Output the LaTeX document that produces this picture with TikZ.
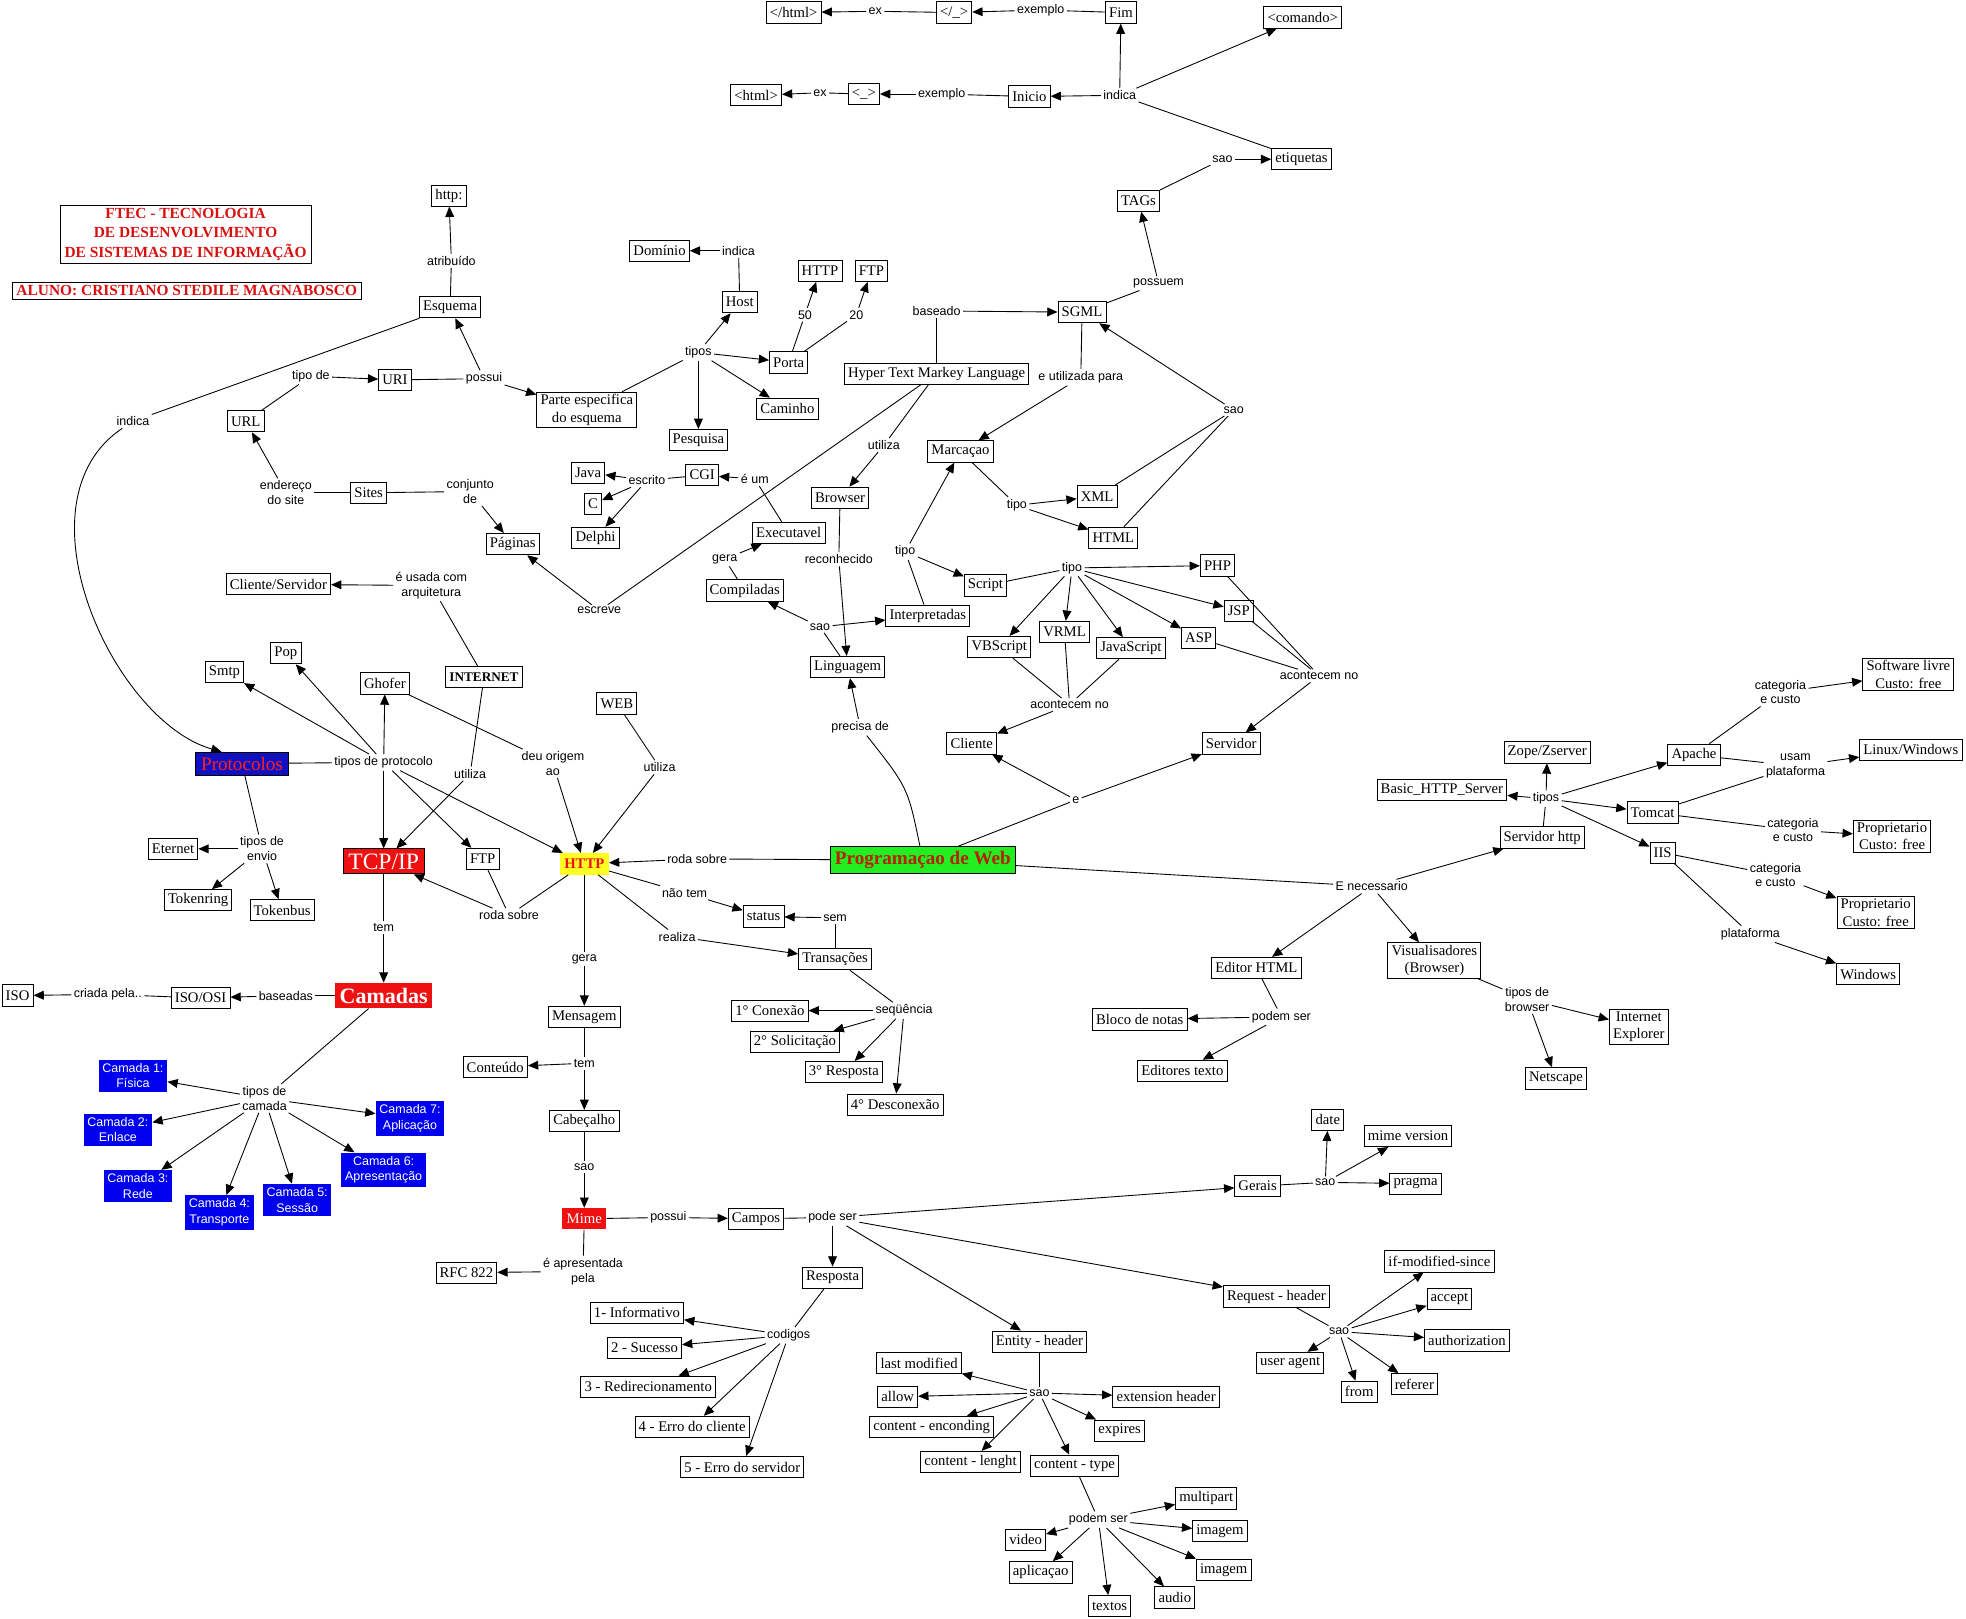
\documentclass[tikz,border=0pt]{standalone}
\usepackage{fontspec}
\setmainfont{Liberation Serif}
\setsansfont{Liberation Sans}
\usetikzlibrary{arrows.meta}
\definecolor{mapRed}{HTML}{EE1111}
\definecolor{mapBlue}{HTML}{0000EE}
\definecolor{protBlue}{HTML}{1010C0}
\definecolor{protText}{HTML}{FF2020}
\definecolor{webGreen}{HTML}{22EE22}
\definecolor{webText}{HTML}{B82000}
\definecolor{httpYellow}{HTML}{FFFF22}
\definecolor{titleRed}{HTML}{D81010}
\tikzset{
  concept/.style={draw, line width=0.6pt, fill=white, align=center, inner xsep=2.5pt, inner ysep=1.5pt, minimum height=14.5pt, font=\fontsize{10}{12}\selectfont},
  lbl/.style={inner sep=1.5pt, align=center, font=\sffamily\fontsize{8.5}{10}\selectfont},
  lnk/.style={line width=0.6pt},
  arr/.style={-{Triangle[length=7pt,width=6pt]}, line width=0.6pt},
  layer/.style={fill=mapBlue, text=white, align=center, inner sep=2.5pt, font=\sffamily\fontsize{8.5}{10.5}\selectfont},
  titlebox/.style={draw, line width=0.6pt, align=center, inner xsep=3pt, inner ysep=2pt, text=titleRed, font=\bfseries\fontsize{10.5}{13.5}\selectfont}
}
\begin{document}
\begin{tikzpicture}[x=0.03cm,y=-0.03cm]
  \useasboundingbox (0,0) rectangle (1568,1291);
  % header
  \node[titlebox] (ftec) at (148,187) {FTEC - TECNOLOGIA\\DE DESENVOLVIMENTO\\DE SISTEMAS DE INFORMAÇÃO};
  \node[titlebox] (aluno) at (149,232) {ALUNO: CRISTIANO STEDILE MAGNABOSCO};
  % HTML / SGML
  \node[concept] (chtml) at (633,10) {</html>};
  \node[concept] (cclose) at (761,10) {</\_>};
  \node[concept] (fim) at (894,10) {Fim};
  \node[concept] (comando) at (1039,14) {<comando>};
  \node[concept] (ohtml) at (603,76) {<html>};
  \node[concept] (copen) at (689,75) {<\_>};
  \node[concept] (inicio) at (821,77) {Inicio};
  \node[concept] (etiq) at (1038,127) {etiquetas};
  \node[concept] (tags) at (908,160) {TAGs};
  \node[concept] (sgml) at (863,249) {SGML};
  \node[concept] (hypertext) at (747,298) {Hyper Text Markey Language};
  \node[concept] (marcacao) at (766,360) {Marcaçao};
  \node[concept] (xml) at (875,396) {XML};
  \node[concept] (htmlb) at (888,429) {HTML};
  % URI
  \node[concept] (httpc) at (358,156) {http:};
  \node[concept] (esquema) at (359,245) {Esquema};
  \node[concept] (uri) at (315,303) {URI};
  \node[concept] (url) at (196,336) {URL};
  \node[concept] (parte) at (468,327) {Parte especifica\\do esquema};
  \node[concept] (sites) at (294,393) {Sites};
  \node[concept] (paginas) at (409,434) {Páginas};
  \node[concept] (cliserv) at (222,466) {Cliente/Servidor};
  \node[concept] (dominio) at (526,200) {Domínio};
  \node[concept] (host) at (590,241) {Host};
  \node[concept] (phttp) at (654,216) {HTTP};
  \node[concept] (pftp) at (695,216) {FTP};
  \node[concept] (porta) at (629,289) {Porta};
  \node[concept] (caminho) at (628,326) {Caminho};
  \node[concept] (pesquisa) at (557,351) {Pesquisa};
  % linguagens
  \node[concept] (java) at (469,377) {Java};
  \node[concept] (cgi) at (560,379) {CGI};
  \node[concept] (clang) at (473,402) {C};
  \node[concept] (delphi) at (475,429) {Delphi};
  \node[concept] (exec) at (629,425) {Executavel};
  \node[concept] (browser) at (670,397) {Browser};
  \node[concept] (compiladas) at (594,471) {Compiladas};
  \node[concept] (script) at (786,467) {Script};
  \node[concept] (php) at (971,451) {PHP};
  \node[concept] (jsp) at (988,487) {JSP};
  \node[concept] (asp) at (956,509) {ASP};
  \node[concept] (vrml) at (849,504) {VRML};
  \node[concept] (jscript) at (902,517) {JavaScript};
  \node[concept] (vbscript) at (797,516) {VBScript};
  \node[concept] (interp) at (740,491) {Interpretadas};
  \node[concept] (linguagem) at (676,532) {Linguagem};
  \node[concept] (cliente) at (775,593) {Cliente};
  \node[concept] (servidor) at (982,593) {Servidor};
  \node[draw, line width=0.6pt, fill=webGreen, text=webText, inner xsep=3pt, minimum height=18pt, font=\bfseries\fontsize{13}{15}\selectfont] (pweb) at (736,686) {Programaçao de Web};
  % protocolos
  \node[concept, font=\bfseries\fontsize{9}{11}\selectfont] (internet) at (386,540) {INTERNET};
  \node[concept] (web) at (492,561) {WEB};
  \node[concept] (smtp) at (179,536) {Smtp};
  \node[concept] (pop) at (228,521) {Pop};
  \node[concept] (ghofer) at (307,545) {Ghofer};
  \node[draw, line width=0.6pt, fill=protBlue, text=protText, inner xsep=4pt, inner ysep=1pt, minimum height=15.5pt, font=\fontsize{13}{15}\selectfont] (prot) at (193,609) {Protocolos};
  \node[draw, line width=0.6pt, fill=mapRed, text=white, inner xsep=3.5pt, inner ysep=1pt, minimum height=17pt, font=\fontsize{16}{18}\selectfont] (tcpip) at (306,687) {TCP/IP};
  \node[concept] (ftp) at (385,685) {FTP};
  \node[fill=httpYellow, text=mapRed, inner xsep=3pt, minimum height=14.5pt, font=\bfseries\fontsize{10}{12}\selectfont] (http) at (466,689) {HTTP};
  \node[concept] (eternet) at (138,677) {Eternet};
  \node[concept] (tokenring) at (158,718) {Tokenring};
  \node[concept] (tokenbus) at (225,726) {Tokenbus};
  \node[concept] (status) at (609,731) {status};
  \node[concept] (transacoes) at (666,765) {Transações};
  \node[fill=mapRed, text=white, inner xsep=3pt, minimum height=17pt, font=\bfseries\fontsize{15}{17}\selectfont] (camadas) at (306,794) {Camadas};
  \node[concept] (isoosi) at (160,796) {ISO/OSI};
  \node[concept] (iso) at (14,794) {ISO};
  \node[concept] (mensagem) at (466,811) {Mensagem};
  \node[concept] (conex) at (614,806) {1° Conexão};
  \node[concept] (solic) at (634,831) {2° Solicitação};
  \node[concept] (resp3) at (673,855) {3° Resposta};
  \node[concept] (descon) at (714,881) {4° Desconexão};
  \node[concept] (conteudo) at (395,851) {Conteúdo};
  \node[concept] (cabecalho) at (466,894) {Cabeçalho};
  \node[layer] (cam1) at (106,858) {Camada 1:\\Física};
  \node[layer] (cam2) at (94,901) {Camada 2:\\Enlace};
  \node[layer] (cam3) at (110,946) {Camada 3:\\Rede};
  \node[layer] (cam4) at (175,967) {Camada 4:\\Transporte};
  \node[layer] (cam5) at (237,957) {Camada 5:\\Sessão};
  \node[layer] (cam6) at (306,933) {Camada 6:\\Apresentação};
  \node[layer] (cam7) at (327,892) {Camada 7:\\Aplicação};
  % mime
  \node[fill=mapRed, text=white, inner xsep=3pt, minimum height=14.5pt, font=\fontsize{10}{12}\selectfont] (mime) at (466,972) {Mime};
  \node[concept] (campos) at (603,972) {Campos};
  \node[concept] (rfc) at (372,1015) {RFC 822};
  \node[concept] (resposta) at (664,1019) {Resposta};
  \node[concept] (cod1) at (508,1047) {1- Informativo};
  \node[concept] (cod2) at (514,1075) {2 - Sucesso};
  \node[concept] (cod3) at (517,1106) {3 - Redirecionamento};
  \node[concept] (cod4) at (552,1138) {4 - Erro do cliente};
  \node[concept] (cod5) at (592,1170) {5 - Erro do servidor};
  \node[concept] (gerais) at (1003,946) {Gerais};
  \node[concept] (date) at (1059,893) {date};
  \node[concept] (mimever) at (1123,906) {mime version};
  \node[concept] (pragma) at (1129,944) {pragma};
  \node[concept] (request) at (1018,1034) {Request - header};
  \node[concept] (ifmod) at (1148,1006) {if-modified-since};
  \node[concept] (accept) at (1156,1036) {accept};
  \node[concept] (authz) at (1170,1069) {authorization};
  \node[concept] (referer) at (1128,1104) {referer};
  \node[concept] (from) at (1084,1110) {from};
  \node[concept] (useragent) at (1029,1087) {user agent};
  \node[concept] (entity) at (829,1070) {Entity - header};
  \node[concept] (lastmod) at (733,1087) {last modified};
  \node[concept] (allow) at (716,1114) {allow};
  \node[concept] (exthead) at (930,1114) {extension header};
  \node[concept] (cenc) at (743,1138) {content - enconding};
  \node[concept] (expires) at (893,1141) {expires};
  \node[concept] (clen) at (774,1166) {content - lenght};
  \node[concept] (ctype) at (857,1169) {content - type};
  \node[concept] (multipart) at (962,1195) {multipart};
  \node[concept] (imagem1) at (973,1221) {imagem};
  \node[concept] (imagem2) at (976,1252) {imagem};
  \node[concept] (audio) at (937,1274) {audio};
  \node[concept] (textos) at (885,1281) {textos};
  \node[concept] (aplic) at (830,1254) {aplicaçao};
  \node[concept] (video) at (818,1228) {video};
  % servidores
  \node[concept] (zope) at (1234,600) {Zope/Zserver};
  \node[concept] (basic) at (1150,630) {Basic\_HTTP\_Server};
  \node[concept] (servhttp) at (1230,668) {Servidor http};
  \node[concept] (apache) at (1351,602) {Apache};
  \node[concept] (swlivre) at (1522,538) {Software livre\\Custo: free};
  \node[concept] (linwin) at (1524,598) {Linux/Windows};
  \node[concept] (tomcat) at (1318,648) {Tomcat};
  \node[concept] (prop1) at (1509,667) {Proprietario\\Custo: free};
  \node[concept] (iis) at (1326,680) {IIS};
  \node[concept] (prop2) at (1496,728) {Proprietario\\Custo: free};
  \node[concept] (windows) at (1490,777) {Windows};
  \node[concept] (editor) at (1002,772) {Editor HTML};
  \node[concept] (bloco) at (909,813) {Bloco de notas};
  \node[concept] (editores) at (943,854) {Editores texto};
  \node[concept] (visual) at (1144,766) {Visualisadores\\(Browser)};
  \node[concept] (ie) at (1307,819) {Internet\\Explorer};
  \node[concept] (netscape) at (1241,860) {Netscape};
  % linking phrases
  \node[lbl] (lex1) at (698,9) {ex};
  \node[lbl] (lexe1) at (830,8) {exemplo};
  \node[lbl] (lex2) at (654,74) {ex};
  \node[lbl] (lexe2) at (751,75) {exemplo};
  \node[lbl] (lindica) at (893,76) {indica};
  \node[lbl] (lsaoetq) at (975,127) {sao};
  \node[lbl] (lpossuem) at (924,226) {possuem};
  \node[lbl] (lbaseado) at (747,248) {baseado};
  \node[lbl] (lutilpara) at (862,301) {e utilizada para};
  \node[lbl] (lsaosgml) at (984,327) {sao};
  \node[lbl] (ltipomarc) at (811,403) {tipo};
  \node[lbl] (latrib) at (360,208) {atribuído};
  \node[lbl] (lindesq) at (106,336) {indica};
  \node[lbl] (ltipode) at (248,300) {tipo de};
  \node[lbl] (lpossui) at (386,302) {possui};
  \node[lbl] (lendsite) at (228,393) {endereço\\do site};
  \node[lbl] (lconj) at (375,392) {conjunto\\de};
  \node[lbl] (lusada) at (344,467) {é usada com\\arquitetura};
  \node[lbl] (lindhost) at (589,200) {indica};
  \node[lbl] (l50) at (642,251) {50};
  \node[lbl] (l20) at (683,251) {20};
  \node[lbl] (ltipos) at (557,281) {tipos};
  \node[lbl] (lescrito) at (516,383) {escrito};
  \node[lbl] (leum) at (602,382) {é um};
  \node[lbl] (lutilhtml) at (705,355) {utiliza};
  \node[lbl] (lgera) at (578,446) {gera};
  \node[lbl] (lrecon) at (669,446) {reconhecido};
  \node[lbl] (ltipoint) at (722,440) {tipo};
  \node[lbl] (ltiposcr) at (855,453) {tipo};
  \node[lbl] (lsaoling) at (654,500) {sao};
  \node[lbl] (lescreve) at (478,487) {escreve};
  \node[lbl] (lacserv) at (1052,539) {acontecem no};
  \node[lbl] (lacclie) at (853,562) {acontecem no};
  \node[lbl] (lprecisa) at (686,580) {precisa de};
  \node[lbl] (le) at (858,638) {e};
  \node[lbl] (lrodaweb) at (556,685) {roda sobre};
  \node[lbl] (ltiposprot) at (306,608) {tipos de protocolo};
  \node[lbl] (ldeu) at (441,609) {deu origem\\ao};
  \node[lbl] (lutilnet) at (375,617) {utiliza};
  \node[lbl] (lutilweb) at (526,612) {utiliza};
  \node[lbl] (lenvio) at (209,677) {tipos de\\envio};
  \node[lbl] (lrodatcp) at (406,730) {roda sobre};
  \node[lbl] (lnaotem) at (546,712) {não tem};
  \node[lbl] (lsem) at (666,732) {sem};
  \node[lbl] (lrealiza) at (540,747) {realiza};
  \node[lbl] (ltem) at (306,740) {tem};
  \node[lbl] (lgerahttp) at (466,765) {gera};
  \node[lbl] (lbaseadas) at (228,794) {baseadas};
  \node[lbl] (lcriada) at (86,793) {criada pela..};
  \node[lbl] (lseq) at (721,806) {seqüência};
  \node[lbl] (ltemmsg) at (466,848) {tem};
  \node[lbl] (lcamada) at (211,876) {tipos de\\camada};
  \node[lbl] (lsaocab) at (466,931) {sao};
  \node[lbl] (lpossuimime) at (533,971) {possui};
  \node[lbl] (lpode) at (664,971) {pode ser};
  \node[lbl] (lapres) at (465,1014) {é apresentada\\pela};
  \node[lbl] (lcodigos) at (629,1065) {codigos};
  \node[lbl] (lsaoger) at (1057,943) {sao};
  \node[lbl] (lsaoreq) at (1068,1062) {sao};
  \node[lbl] (lsaoent) at (829,1111) {sao};
  \node[lbl] (lpodem) at (876,1212) {podem ser};
  \node[lbl] (ltiposserv) at (1233,637) {tipos};
  \node[lbl] (lcatap) at (1420,552) {categoria\\e custo};
  \node[lbl] (lusam) at (1432,611) {usam\\plataforma};
  \node[lbl] (lcattom) at (1430,662) {categoria\\e custo};
  \node[lbl] (lcatiis) at (1416,698) {categoria\\e custo};
  \node[lbl] (lplat) at (1396,745) {plataforma};
  \node[lbl] (lenec) at (1094,707) {E necessario};
  \node[lbl] (lpodemed) at (1022,811) {podem ser};
  \node[lbl] (ltiposbr) at (1218,797) {tipos de\\browser};
  % one source, one phrase, one target
  \foreach \s/\l/\t in {cclose/lex1/chtml, fim/lexe1/cclose, copen/lex2/ohtml, inicio/lexe2/copen,
    tags/lsaoetq/etiq, sgml/lpossuem/tags, hypertext/lbaseado/sgml, sgml/lutilpara/marcacao,
    esquema/latrib/httpc, url/ltipode/uri, host/lindhost/dominio, porta/l50/phttp, porta/l20/pftp,
    sites/lendsite/url, sites/lconj/paginas, hypertext/lescreve/paginas, hypertext/lutilhtml/browser,
    browser/lrecon/linguagem, compiladas/lgera/exec, exec/leum/cgi, internet/lusada/cliserv,
    internet/lutilnet/tcpip, ghofer/ldeu/http, web/lutilweb/http, pweb/lrodaweb/http,
    tcpip/ltem/camadas, camadas/lbaseadas/isoosi, isoosi/lcriada/iso, http/lnaotem/status,
    transacoes/lsem/status, http/lrealiza/transacoes, http/lgerahttp/mensagem, cabecalho/lsaocab/mime,
    mime/lpossuimime/campos, mime/lapres/rfc, apache/lcatap/swlivre, tomcat/lcattom/prop1,
    iis/lcatiis/prop2, iis/lplat/windows}{
    \draw[lnk] (\s) -- (\l);
    \draw[arr] (\l) -- (\t);
  }
  % phrases with several ends
  \draw[lnk] (etiq) -- (lindica);
  \foreach \t in {inicio,fim,comando} \draw[arr] (lindica) -- (\t);
  \foreach \s in {xml,htmlb} \draw[lnk] (\s) -- (lsaosgml);
  \draw[arr] (lsaosgml) -- (sgml);
  \draw[lnk] (marcacao) -- (ltipomarc);
  \foreach \t in {xml,htmlb} \draw[arr] (ltipomarc) -- (\t);
  \draw[lnk] (uri) -- (lpossui);
  \foreach \t in {esquema,parte} \draw[arr] (lpossui) -- (\t);
  \draw[lnk] (parte) -- (ltipos);
  \foreach \t in {host,porta,caminho,pesquisa} \draw[arr] (ltipos) -- (\t);
  \draw[lnk] (cgi) -- (lescrito);
  \foreach \t in {java,clang,delphi} \draw[arr] (lescrito) -- (\t);
  \draw[lnk] (linguagem) -- (lsaoling);
  \foreach \t in {compiladas,interp} \draw[arr] (lsaoling) -- (\t);
  \draw[lnk] (interp) -- (ltipoint);
  \foreach \t in {marcacao,script} \draw[arr] (ltipoint) -- (\t);
  \draw[lnk] (script) -- (ltiposcr);
  \foreach \t in {php,jsp,asp,vrml,jscript,vbscript} \draw[arr] (ltiposcr) -- (\t);
  \foreach \s in {php,jsp,asp} \draw[lnk] (\s) -- (lacserv);
  \draw[arr] (lacserv) -- (servidor);
  \foreach \s in {vbscript,vrml,jscript} \draw[lnk] (\s) -- (lacclie);
  \draw[arr] (lacclie) -- (cliente);
  \draw[lnk] (pweb) -- (le);
  \foreach \t in {cliente,servidor} \draw[arr] (le) -- (\t);
  \draw[lnk] (pweb) .. controls (724,628) .. (lprecisa);
  \draw[arr] (lprecisa) -- (linguagem);
  \draw[lnk] (pweb) -- (lenec);
  \foreach \t in {servhttp,editor,visual} \draw[arr] (lenec) -- (\t);
  \draw[lnk] (servhttp) -- (ltiposserv);
  \foreach \t in {zope,basic,apache,tomcat,iis} \draw[arr] (ltiposserv) -- (\t);
  \foreach \s in {apache,tomcat} \draw[lnk] (\s) -- (lusam);
  \draw[arr] (lusam) -- (linwin);
  \draw[lnk] (editor) -- (lpodemed);
  \foreach \t in {bloco,editores} \draw[arr] (lpodemed) -- (\t);
  \draw[lnk] (visual) -- (ltiposbr);
  \foreach \t in {ie,netscape} \draw[arr] (ltiposbr) -- (\t);
  \draw[lnk] (esquema) -- (lindesq);
  \draw[arr] (lindesq) .. controls (10,400) and (90,575) .. (prot.150);
  \draw[lnk] (prot) -- (ltiposprot);
  \foreach \t in {smtp,pop,ghofer,tcpip,ftp,http} \draw[arr] (ltiposprot) -- (\t);
  \draw[lnk] (prot) -- (lenvio);
  \foreach \t in {eternet,tokenring,tokenbus} \draw[arr] (lenvio) -- (\t);
  \foreach \s in {ftp,http} \draw[lnk] (\s) -- (lrodatcp);
  \draw[arr] (lrodatcp) -- (tcpip);
  \draw[lnk] (camadas) -- (lcamada);
  \foreach \t in {cam1,cam2,cam3,cam4,cam5,cam6,cam7} \draw[arr] (lcamada) -- (\t);
  \draw[lnk] (transacoes) -- (lseq);
  \foreach \t in {conex,solic,resp3,descon} \draw[arr] (lseq) -- (\t);
  \draw[lnk] (mensagem) -- (ltemmsg);
  \foreach \t in {conteudo,cabecalho} \draw[arr] (ltemmsg) -- (\t);
  \draw[lnk] (campos) -- (lpode);
  \foreach \t in {resposta,gerais,request,entity} \draw[arr] (lpode) -- (\t);
  \draw[lnk] (resposta) -- (lcodigos);
  \foreach \t in {cod1,cod2,cod3,cod4,cod5} \draw[arr] (lcodigos) -- (\t);
  \draw[lnk] (gerais) -- (lsaoger);
  \foreach \t in {date,mimever,pragma} \draw[arr] (lsaoger) -- (\t);
  \draw[lnk] (request) -- (lsaoreq);
  \foreach \t in {ifmod,accept,authz,referer,from,useragent} \draw[arr] (lsaoreq) -- (\t);
  \draw[lnk] (entity) -- (lsaoent);
  \foreach \t in {lastmod,allow,exthead,cenc,expires,clen,ctype} \draw[arr] (lsaoent) -- (\t);
  \draw[lnk] (ctype) -- (lpodem);
  \foreach \t in {multipart,imagem1,imagem2,audio,textos,aplic,video} \draw[arr] (lpodem) -- (\t);
\end{tikzpicture}
\end{document}
